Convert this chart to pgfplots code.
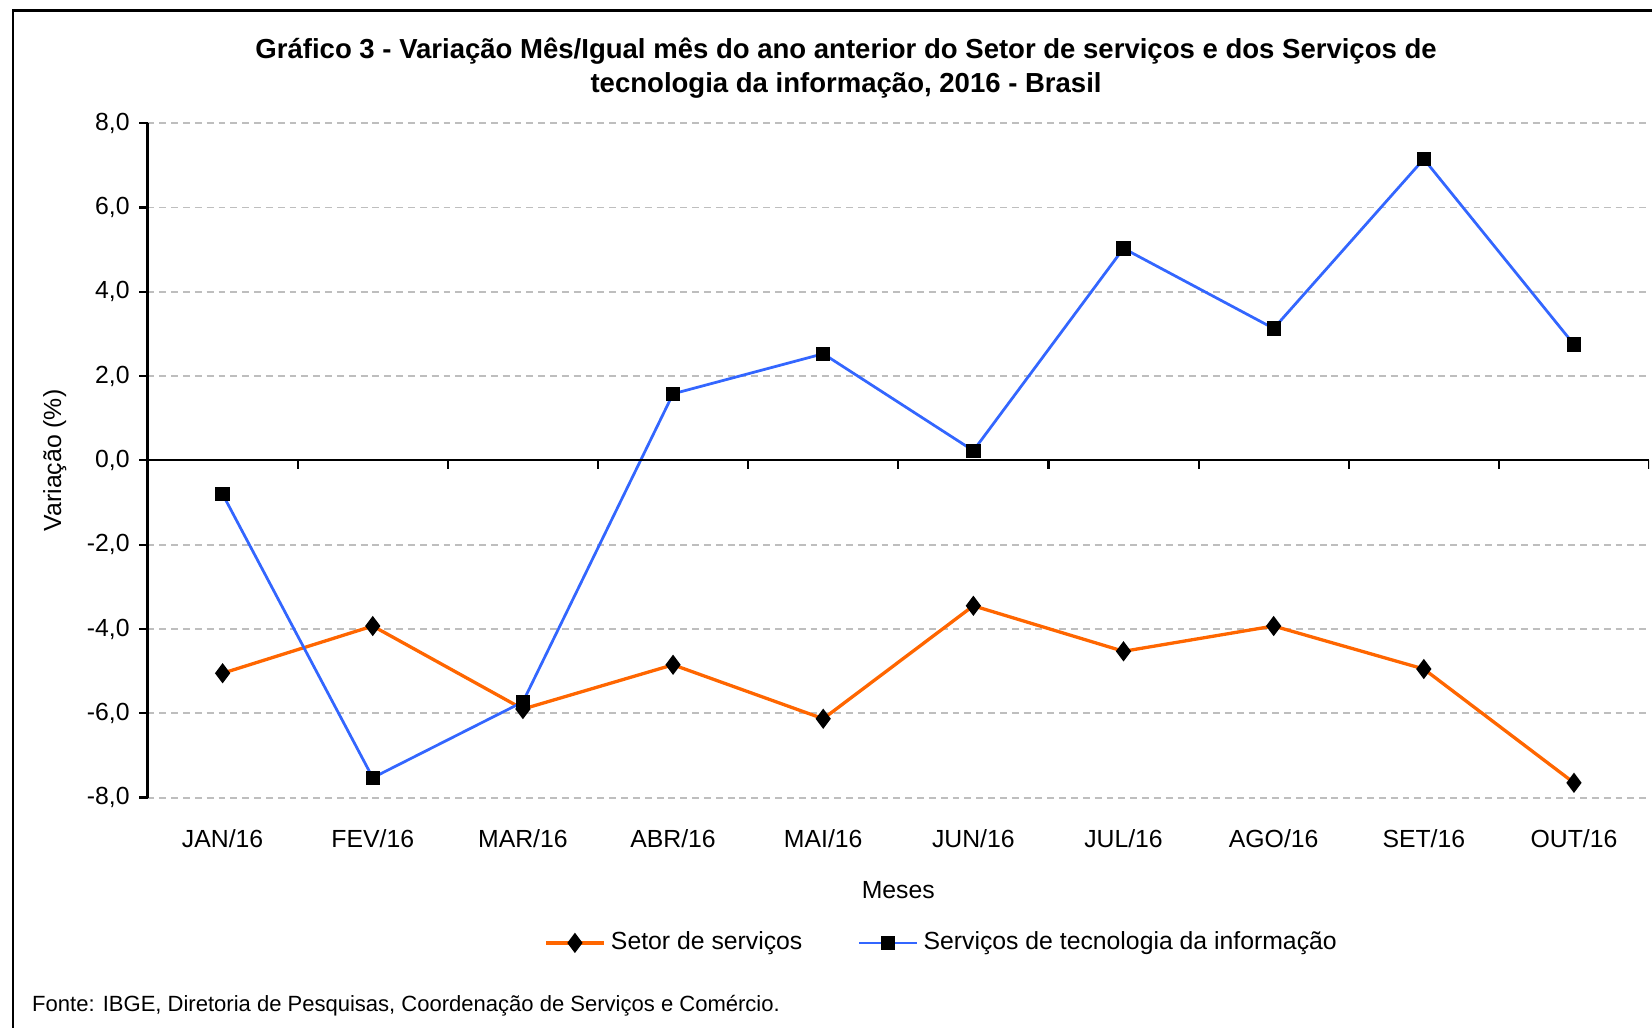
\documentclass[border=0pt]{standalone}
\usepackage{fontspec}
\setmainfont{Liberation Sans}
\usepackage{pgfplots}
\pgfplotsset{compat=1.18}
\definecolor{cOrange}{RGB}{255,102,0}
\definecolor{cBlue}{RGB}{51,102,255}
\definecolor{cGrid}{RGB}{190,190,190}
\begin{document}
\begin{tikzpicture}
\useasboundingbox (0,0) rectangle (600pt,373.1pt);
\draw[line width=0.8pt] (4.6pt,-20pt) rectangle (620pt,369.3pt);
\node[align=center, font=\bfseries\fontsize{10}{12.6}\selectfont] at (307.3pt,348.4pt) {Gráfico 3 - Variação Mês/Igual mês do ano anterior do Setor de serviços e dos Serviços de\\tecnologia da informação, 2016 - Brasil};
\node[anchor=west, inner sep=0pt, font=\fontsize{8}{9}\selectfont] at (11.5pt,7.7pt) {Fonte: IBGE, Diretoria de Pesquisas, Coordenação de Serviços e Comércio.};
\begin{axis}[
  at={(53.58pt,83.43pt)}, anchor=south west,
  scale only axis, width=545.35pt, height=244.93pt,
  xmin=-0.5, xmax=9.5, ymin=-8, ymax=8,
  axis x line=bottom, axis y line=left,
  x axis line style={draw=none},
  y axis line style={-, line width=0.8pt, black},
  xtick={0,...,9},
  xticklabels={JAN/16,FEV/16,MAR/16,ABR/16,MAI/16,JUN/16,JUL/16,AGO/16,SET/16,OUT/16},
  x tick style={draw=none},
  xticklabel style={yshift=-5pt},
  ytick={-8,-6,...,8},
  y tick style={line width=0.8pt, black},
  tick align=outside,
  major tick length=3pt,
  ymajorgrids,
  grid style={line width=0.7pt, cGrid, dash pattern=on 2.5pt off 1.8pt},
  /pgf/number format/fixed,
  /pgf/number format/fixed zerofill,
  /pgf/number format/precision=1,
  /pgf/number format/use comma,
  /pgf/number format/assume math mode=true,
  tick label style={font=\fontsize{9}{10}\selectfont},
  xlabel={Meses},
  xlabel style={at={(axis description cs:0.5,-0.1375)}, anchor=center, font=\fontsize{9}{10}\selectfont},
  ylabel={Variação (\%)},
  ylabel style={at={(axis description cs:-0.0618,0.5)}, anchor=center, font=\fontsize{9}{10}\selectfont},
  legend columns=2,
  legend style={draw=none, fill=none, at={(axis description cs:0.530,-0.2155)}, anchor=center,
    font=\fontsize{9}{10}\selectfont,
    /tikz/every even column/.append style={column sep=18pt}},
  legend image code/.code={\draw[mark repeat=2,mark phase=2,#1] plot coordinates {(0pt,0pt) (10.5pt,0pt) (21pt,0pt)};},
]
\addplot[cOrange, line width=1.2pt, mark=diamond*, mark size=2.7pt, mark options={black, solid}]
  coordinates {(0,-5.05) (1,-3.93) (2,-5.9) (3,-4.85) (4,-6.13) (5,-3.45) (6,-4.53) (7,-3.93) (8,-4.95) (9,-7.65)};
\addlegendentry{Setor de serviços}
\addplot[cBlue, line width=1pt, mark=square*, mark size=2.1pt, mark options={black, solid}]
  coordinates {(0,-0.8) (1,-7.53) (2,-5.73) (3,1.58) (4,2.53) (5,0.23) (6,5.03) (7,3.13) (8,7.15) (9,2.75)};
\addlegendentry{Serviços de tecnologia da informação}
\draw[line width=0.8pt, black] (axis cs:-0.5,0) -- (axis cs:9.5,0);
\pgfplotsinvokeforeach{0.5,1.5,...,9.5}{\draw[line width=0.8pt, black] (axis cs:#1,0) -- ++(0pt,-3pt);}
\end{axis}
\end{tikzpicture}
\end{document}
